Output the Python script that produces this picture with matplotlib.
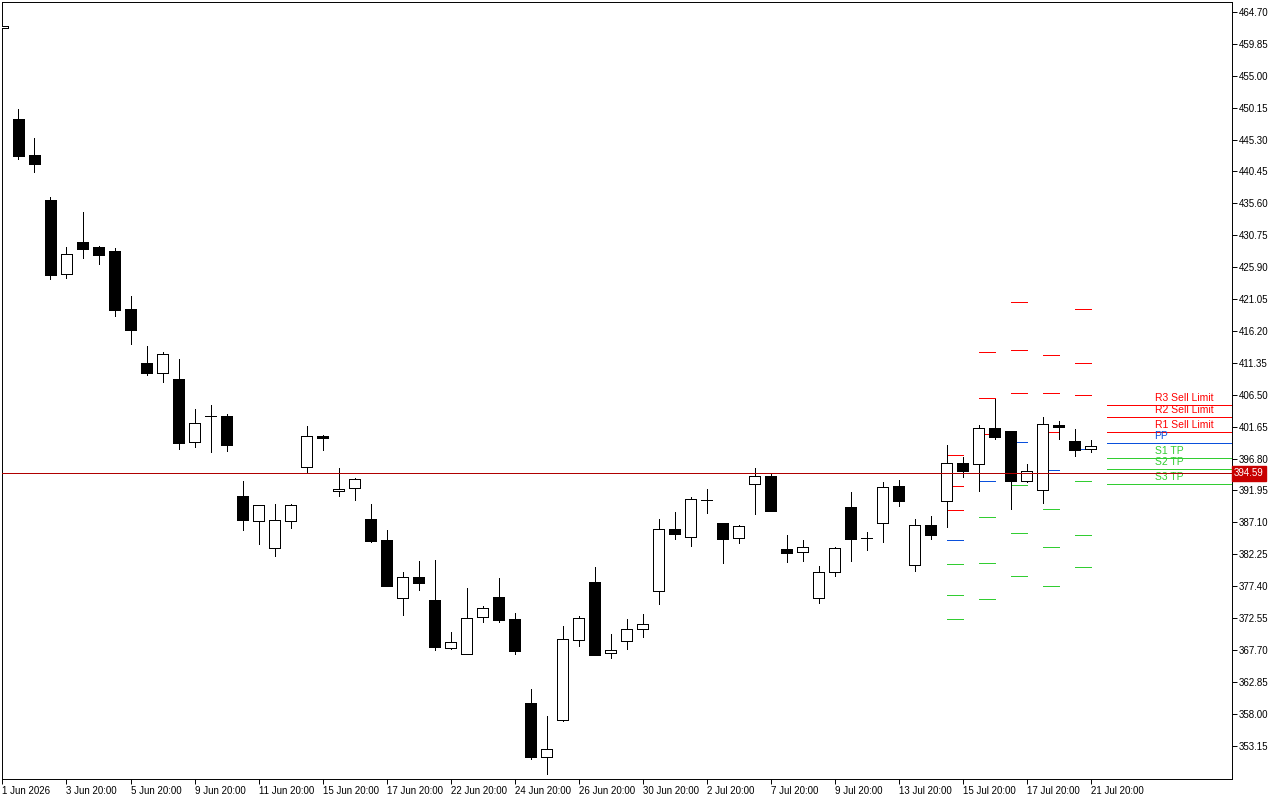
import numpy as np
import matplotlib
matplotlib.use('Agg')
import matplotlib.pyplot as plt
from matplotlib.patches import Rectangle
from matplotlib.transforms import blended_transform_factory

plt.rcParams['font.family'] = ['Liberation Sans', 'DejaVu Sans']

# 12H candles, bar -1 is the one cut off by the left edge
first_bar = -1
opens = [462.27, 448.43, 442.96, 436.12, 424.91, 429.73, 428.97, 428.36, 419.54, 411.33,
         409.86, 408.90, 399.28, 403.23, 403.28, 391.16, 387.36, 383.25, 387.36, 395.57,
         400.28, 391.83, 392.28, 387.62, 384.42, 375.56, 378.80, 375.30, 368.05, 367.14,
         372.67, 375.76, 372.41, 359.64, 351.48, 357.10, 369.26, 378.04, 367.20, 369.02,
         370.89, 376.62, 386.10, 384.83, 390.46, 387.01, 384.68, 392.89, 394.15, 383.05,
         382.55, 375.56, 379.51, 389.39, 384.68, 386.96, 392.59, 380.58, 386.66, 390.31,
         396.13, 395.93, 401.45, 400.99, 393.44, 391.98, 401.91, 399.47, 398.21]
highs = [462.60, 449.95, 445.54, 436.57, 428.97, 434.29, 429.05, 428.82, 421.52, 413.92,
         413.01, 411.94, 404.34, 404.99, 403.58, 393.39, 389.79, 389.94, 389.94, 401.76,
         400.39, 395.37, 393.85, 389.90, 385.94, 379.56, 381.23, 381.38, 370.44, 377.12,
         374.39, 378.65, 373.32, 361.77, 357.66, 371.35, 372.87, 380.32, 370.13, 372.41,
         373.17, 387.62, 388.68, 390.96, 392.18, 387.05, 386.70, 395.37, 394.56, 385.18,
         384.42, 380.47, 383.31, 391.72, 385.64, 393.24, 393.55, 387.62, 388.07, 398.87,
         397.04, 401.91, 405.86, 401.02, 395.98, 403.12, 402.52, 401.30, 399.63]
lows = [462.20, 442.35, 440.42, 424.10, 424.30, 427.34, 426.43, 418.48, 414.27, 409.51,
        408.45, 398.26, 398.56, 397.85, 397.95, 385.94, 383.86, 382.04, 386.29, 394.81,
        398.15, 391.16, 390.55, 384.16, 377.40, 373.07, 376.87, 367.74, 367.90, 367.10,
        372.00, 372.00, 367.14, 351.13, 348.89, 356.95, 368.35, 366.90, 366.53, 367.90,
        369.63, 374.74, 384.62, 383.56, 388.57, 380.97, 384.01, 388.42, 388.85, 381.12,
        381.28, 374.89, 379.00, 381.28, 382.95, 384.07, 389.55, 379.66, 384.62, 386.35,
        394.05, 391.92, 399.73, 389.18, 393.24, 390.00, 399.82, 397.24, 397.85]
closes = [462.57, 442.85, 441.64, 424.76, 427.91, 428.67, 427.80, 419.39, 416.40, 409.86,
          412.66, 399.22, 402.21, 403.23, 398.87, 387.51, 389.79, 387.42, 389.79, 400.19,
          399.98, 392.13, 393.65, 384.32, 377.47, 378.80, 377.93, 368.20, 368.91, 372.56,
          374.08, 372.31, 367.59, 351.48, 352.65, 369.37, 372.56, 366.98, 367.70, 370.89,
          371.65, 386.05, 385.38, 390.61, 390.46, 384.62, 386.51, 394.11, 388.88, 382.49,
          383.31, 379.51, 383.16, 384.62, 384.68, 392.44, 390.40, 386.66, 385.23, 396.08,
          394.96, 401.41, 400.13, 393.44, 394.87, 402.01, 401.65, 398.15, 398.71]

# daily pivot levels, each day spans two bars starting at pivot_bars
pivot_bars = [58, 60, 62, 64, 66]
r3 = [397.30, 413.01, 420.56, 412.50, 419.50]
r2 = [392.59, 406.01, 413.26, 406.73, 411.29]
r1 = [388.94, 400.49, 406.73, 400.80, 406.42]
pp = [384.38, 393.35, 399.28, 395.02, 398.21]
s1 = [380.73, 387.87, 392.74, 389.09, 393.35]
s2 = [376.02, 380.88, 385.44, 383.31, 385.14]
s3 = [372.37, 375.41, 378.90, 377.38, 380.27]

# current levels drawn to the right of the last bar
level_names = ['R3 Sell Limit', 'R2 Sell Limit', 'R1 Sell Limit', 'PP', 'S1 TP', 'S2 TP', 'S3 TP']
level_values = [404.90, 403.08, 400.80, 399.13, 396.84, 395.17, 392.89]
level_start = 68
label_bar = 71

current_price = 394.59

xtick_bars = list(range(-1, 68, 4))
xtick_labels = ['1 Jun 2026', '3 Jun 20:00', '5 Jun 20:00', '9 Jun 20:00', '11 Jun 20:00',
                '15 Jun 20:00', '17 Jun 20:00', '22 Jun 20:00', '24 Jun 20:00', '26 Jun 20:00',
                '30 Jun 20:00', '2 Jul 20:00', '7 Jul 20:00', '9 Jul 20:00', '13 Jul 20:00',
                '15 Jul 20:00', '17 Jul 20:00', '21 Jul 20:00']
ytick_values = [464.70 - 4.85 * i for i in range(24)]

RED = '#ff0000'
BLUE = '#0a50dc'
GREEN = '#32cd32'
level_colors = [RED, RED, RED, BLUE, GREEN, GREEN, GREEN]
LW = 0.7  # about one pixel

fig = plt.figure(figsize=(12.8, 8), dpi=100)
ax = fig.add_axes([2 / 1280, 21 / 800, 1230 / 1280, 777 / 800])

xs = np.arange(first_bar, first_bar + len(opens))
half = 0.34

# wicks then bodies
ax.vlines(xs, lows, highs, color='black', lw=LW, zorder=3, antialiased=False)
for x, o, c in zip(xs, opens, closes):
    if abs(c - o) < 0.05:
        ax.hlines(o, x - half, x + half, color='black', lw=LW, zorder=4, antialiased=False)
    else:
        ax.add_patch(Rectangle((x - half, min(o, c)), 2 * half, abs(c - o),
                               facecolor='white' if c > o else 'black',
                               edgecolor='black', lw=LW, zorder=4, antialiased=False))

# pivot segments per day
for levels, col in zip([r3, r2, r1, pp, s1, s2, s3], level_colors):
    for b, v in zip(pivot_bars, levels):
        ax.hlines(v, b, b + 1, color=col, lw=LW, zorder=2, antialiased=False)

# levels on the right with their labels
for name, v, col in zip(level_names, level_values, level_colors):
    ax.hlines(v, level_start, 80, color=col, lw=LW, zorder=2, antialiased=False)
    ax.annotate(name, (label_bar, v), xytext=(0, 3), textcoords='offset points',
                color=col, fontsize=7.5, va='baseline', ha='left')

# current price line and its label
ax.axhline(current_price, color='#b00000', lw=LW, zorder=5, antialiased=False)
trans = blended_transform_factory(ax.transAxes, ax.transData)
ax.text(1.0017, current_price, f'{current_price:.2f}', transform=trans, color='white',
        fontsize=7, va='center', ha='left', clip_on=False,
        bbox=dict(boxstyle='square,pad=0.25', facecolor='#c80000', edgecolor='#c80000'))

ax.set_xlim(-1.031, 75.84)
ax.set_ylim(348.08, 466.22)

ax.yaxis.tick_right()
ax.set_yticks(ytick_values)
ax.set_yticklabels([f'{v:.2f}' for v in ytick_values])
ax.tick_params(axis='y', direction='out', length=3.5, width=LW, pad=1.5, labelsize=7)
ax.set_xticks(xtick_bars)
ax.set_xticklabels(xtick_labels)
ax.tick_params(axis='x', direction='out', length=3.5, width=LW, pad=1.5, labelsize=7)
for lab in ax.get_xticklabels():
    lab.set_ha('left')

for sp in ax.spines.values():
    sp.set_color('black')
    sp.set_linewidth(LW)

fig.savefig('out.png', dpi=100, facecolor='white')
